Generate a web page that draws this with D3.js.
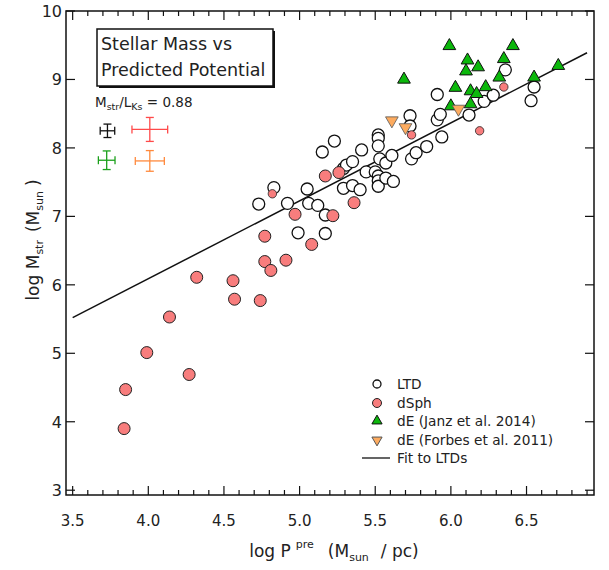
<!DOCTYPE html>
<html>
<head>
  <meta charset="UTF-8">
  <style>
    body { margin: 0; background: #fff; }
    text { font-family: "DejaVu Sans", sans-serif; fill: #222; }
  </style>
</head>
<body>
<svg></svg>
<script src="https://d3js.org/d3.v7.min.js"></script>
<script>

let width = 609, height = 570;
let svg = d3.select("svg").attr("width", width).attr("height", height);

// LTD (open circles)
const ltdX = [4.73, 4.83, 4.92, 4.99, 5.17, 5.05, 5.06, 5.12, 5.17, 5.15, 5.23, 5.29, 5.35, 5.40,
  5.29, 5.31, 5.35, 5.41, 5.44, 5.50, 5.52, 5.52, 5.52, 5.53, 5.57, 5.61, 5.52, 5.52, 5.52, 5.57,
  5.62, 5.74, 5.77, 5.84, 5.94, 5.73, 5.73, 5.91, 5.93, 5.91, 6.12, 6.22, 6.28, 6.36, 6.55, 6.53];
const ltdY = [7.18, 7.42, 7.19, 6.76, 6.75, 7.40, 7.19, 7.16, 7.02, 7.94, 8.10, 7.41, 7.45, 7.39,
  7.70, 7.75, 7.80, 7.97, 7.65, 7.65, 8.19, 8.14, 8.03, 7.84, 7.78, 7.89, 7.59, 7.52, 7.44, 7.56,
  7.51, 7.84, 7.93, 8.02, 8.16, 8.47, 8.32, 8.41, 8.49, 8.78, 8.48, 8.68, 8.77, 9.14, 8.89, 8.69];

// dSph (red circles)
const dsphX = [3.84, 3.85, 3.99, 4.27, 4.14, 4.32, 4.56, 4.57, 4.74, 4.77, 4.81, 4.77, 4.91,
  4.97, 5.08, 5.22, 5.17, 5.26, 5.36];
const dsphY = [3.90, 4.47, 5.01, 4.69, 5.53, 6.11, 6.06, 5.79, 5.77, 6.34, 6.21, 6.71, 6.36,
  7.03, 6.59, 7.01, 7.59, 7.64, 7.20];
// dSph, small markers
const dsphSmallX = [4.82, 5.74, 6.19, 6.35];
const dsphSmallY = [7.33, 8.19, 8.25, 8.89];

// dE (Janz et al. 2014)
const janzX = [5.99, 6.41, 6.11, 6.35, 6.10, 6.18, 6.32, 5.69, 6.55, 6.71, 6.03, 6.13, 6.23, 6.17, 6.00, 6.13];
const janzY = [9.49, 9.49, 9.28, 9.30, 9.12, 9.18, 9.03, 9.00, 9.03, 9.20, 8.88, 8.83, 8.89, 8.79, 8.61, 8.64];

// dE (Forbes et al. 2011)
const forbesX = [5.61, 5.70, 6.05];
const forbesY = [8.40, 8.30, 8.57];

// fit to LTDs
const fitX = [3.5, 6.9];
const fitY = [5.52, 9.39];

// typical error bars
const errX  = [3.73, 4.01, 3.725, 4.01];
const errY  = [8.25, 8.27, 7.82, 7.81];
const errDx = [0.048, 0.118, 0.055, 0.096];
const errDy = [0.098, 0.175, 0.136, 0.151];
const errColor = ["#111", "#ff4a4a", "#1aa01a", "#ff8a3d"];

const xTicks = [3.5, 4.0, 4.5, 5.0, 5.5, 6.0, 6.5];
const yTicks = [3, 4, 5, 6, 7, 8, 9, 10];

const pLeft = 66, pRight = 594, pTop = 11, pBottom = 495;

let x = d3.scaleLinear().domain([3.456, 6.946]).range([pLeft, pRight]);
let y = d3.scaleLinear().domain([2.93, 10.0]).range([pBottom, pTop]);

// frame
svg.append("rect").attr("x", pLeft).attr("y", pTop).attr("width", pRight - pLeft).attr("height", pBottom - pTop)
  .attr("fill", "none").attr("stroke", "#111").attr("stroke-width", 1.5);

// ticks: major every 0.5, minor every 0.1 on x; integer on y
let xMinor = d3.range(35, 70).map(d => d / 10);
let g = svg.append("g").attr("stroke", "#111").attr("stroke-width", 1.2);
xMinor.forEach(v => {
  let major = Math.abs(v * 2 - Math.round(v * 2)) < 1e-6;
  let len = major ? 9 : 5;
  g.append("line").attr("x1", x(v)).attr("x2", x(v)).attr("y1", pBottom).attr("y2", pBottom - len);
  g.append("line").attr("x1", x(v)).attr("x2", x(v)).attr("y1", pTop).attr("y2", pTop + len);
});
yTicks.forEach(v => {
  g.append("line").attr("x1", pLeft).attr("x2", pLeft + 9).attr("y1", y(v)).attr("y2", y(v));
  g.append("line").attr("x1", pRight).attr("x2", pRight - 9).attr("y1", y(v)).attr("y2", y(v));
});

svg.selectAll(".xt").data(xTicks).enter().append("text")
  .attr("x", d => x(d)).attr("y", 526).attr("text-anchor", "middle")
  .style("font-size", "15px").text(d => d.toFixed(1));
svg.selectAll(".yt").data(yTicks).enter().append("text")
  .attr("x", pLeft - 4).attr("y", d => y(d) + 6).attr("text-anchor", "end")
  .style("font-size", "16px").text(d => d);

// axis titles
let xt = svg.append("text").attr("x", 334).attr("y", 557).attr("text-anchor", "middle").style("font-size", "17px");
xt.append("tspan").text("log P");
xt.append("tspan").attr("dx", 5).attr("dy", -9).style("font-size", "11px").text("pre");
xt.append("tspan").attr("dx", 14).attr("dy", 9).text("(M");
xt.append("tspan").attr("dy", 4).style("font-size", "11px").text("sun");
xt.append("tspan").attr("dx", 12).attr("dy", -4).text("/ pc)");

let yt = svg.append("text").attr("transform", "translate(39,240) rotate(-90)").attr("text-anchor", "middle").style("font-size", "17px");
yt.append("tspan").text("log M");
yt.append("tspan").attr("dy", 4).style("font-size", "11px").text("str");
yt.append("tspan").attr("dx", 8).attr("dy", -4).text("(M");
yt.append("tspan").attr("dy", 4).style("font-size", "11px").text("sun");
yt.append("tspan").attr("dx", 5).attr("dy", -4).text(")");

// fit line
svg.append("line").attr("x1", x(fitX[0])).attr("y1", y(fitY[0])).attr("x2", x(fitX[1])).attr("y2", y(fitY[1]))
  .attr("stroke", "#111").attr("stroke-width", 1.5);

// points
svg.append("g").selectAll("circle").data(ltdX).enter().append("circle")
  .attr("cx", d => x(d)).attr("cy", (d, i) => y(ltdY[i])).attr("r", 6)
  .attr("fill", "#fff").attr("stroke", "#111").attr("stroke-width", 1.3);

svg.append("g").selectAll("circle").data(dsphX).enter().append("circle")
  .attr("cx", d => x(d)).attr("cy", (d, i) => y(dsphY[i])).attr("r", 6)
  .attr("fill", "#f87d7d").attr("stroke", "#222").attr("stroke-width", 1);

svg.append("g").selectAll("circle").data(dsphSmallX).enter().append("circle")
  .attr("cx", d => x(d)).attr("cy", (d, i) => y(dsphSmallY[i])).attr("r", 4.2)
  .attr("fill", "#f87d7d").attr("stroke", "#222").attr("stroke-width", 0.8);

let tri = d3.symbol().type(d3.symbolTriangle).size(70);
svg.append("g").selectAll("path").data(janzX).enter().append("path")
  .attr("d", tri).attr("transform", (d, i) => "translate(" + x(d) + "," + y(janzY[i]) + ")")
  .attr("fill", "#0cb80c").attr("stroke", "#111").attr("stroke-width", 1);

svg.append("g").selectAll("path").data(forbesX).enter().append("path")
  .attr("d", tri).attr("transform", (d, i) => "translate(" + x(d) + "," + y(forbesY[i]) + ") rotate(180)")
  .attr("fill", "#fdab5f").attr("stroke", "#555").attr("stroke-width", 0.8);

// error bars
errX.forEach((v, i) => {
  let eg = svg.append("g").attr("stroke", errColor[i]).attr("stroke-width", 1.3);
  let cx = x(v), cy = y(errY[i]);
  let x0 = x(v - errDx[i]), x1 = x(v + errDx[i]);
  let y0 = y(errY[i] - errDy[i]), y1 = y(errY[i] + errDy[i]);
  eg.append("line").attr("x1", x0).attr("x2", x1).attr("y1", cy).attr("y2", cy);
  eg.append("line").attr("x1", cx).attr("x2", cx).attr("y1", y0).attr("y2", y1);
  eg.append("line").attr("x1", x0).attr("x2", x0).attr("y1", cy - 4).attr("y2", cy + 4);
  eg.append("line").attr("x1", x1).attr("x2", x1).attr("y1", cy - 4).attr("y2", cy + 4);
  eg.append("line").attr("x1", cx - 4).attr("x2", cx + 4).attr("y1", y0).attr("y2", y0);
  eg.append("line").attr("x1", cx - 4).attr("x2", cx + 4).attr("y1", y1).attr("y2", y1);
});

// title box
svg.append("rect").attr("x", 99).attr("y", 31).attr("width", 176).attr("height", 57).attr("fill", "#111");
svg.append("rect").attr("x", 97).attr("y", 29).attr("width", 176).attr("height", 57)
  .attr("fill", "#fff").attr("stroke", "#111").attr("stroke-width", 1.5);
svg.append("text").attr("x", 101).attr("y", 50).style("font-size", "17.5px").text("Stellar Mass vs");
svg.append("text").attr("x", 101).attr("y", 76).style("font-size", "17.5px").text("Predicted Potential");

let ml = svg.append("text").attr("x", 95).attr("y", 107).style("font-size", "13.5px");
ml.append("tspan").text("M");
ml.append("tspan").attr("dy", 3).style("font-size", "9.5px").text("str");
ml.append("tspan").attr("dy", -3).text("/L");
ml.append("tspan").attr("dy", 3).style("font-size", "9.5px").text("Ks");
ml.append("tspan").attr("dy", -3).text(" = 0.88");

// legend
let lx = 377, tx = 397, ly = [384, 403, 421, 440, 458];
svg.append("circle").attr("cx", lx).attr("cy", ly[0]).attr("r", 4).attr("fill", "#fff").attr("stroke", "#111").attr("stroke-width", 1.3);
svg.append("circle").attr("cx", lx).attr("cy", ly[1]).attr("r", 4.5).attr("fill", "#f87d7d").attr("stroke", "#222");
svg.append("path").attr("d", d3.symbol().type(d3.symbolTriangle).size(45))
  .attr("transform", "translate(" + lx + "," + ly[2] + ")").attr("fill", "#0cb80c").attr("stroke", "#111");
svg.append("path").attr("d", d3.symbol().type(d3.symbolTriangle).size(45))
  .attr("transform", "translate(" + lx + "," + ly[3] + ") rotate(180)").attr("fill", "#fdab5f").attr("stroke", "#555");
svg.append("line").attr("x1", 362).attr("x2", 390).attr("y1", ly[4]).attr("y2", ly[4]).attr("stroke", "#111").attr("stroke-width", 1.3);
const legendLabels = ["LTD", "dSph", "dE (Janz et al. 2014)", "dE (Forbes et al. 2011)", "Fit to LTDs"];
legendLabels.forEach((t, i) => {
  svg.append("text").attr("x", tx).attr("y", ly[i] + 5).style("font-size", "13.7px").text(t);
});

</script>
</body>
</html>
